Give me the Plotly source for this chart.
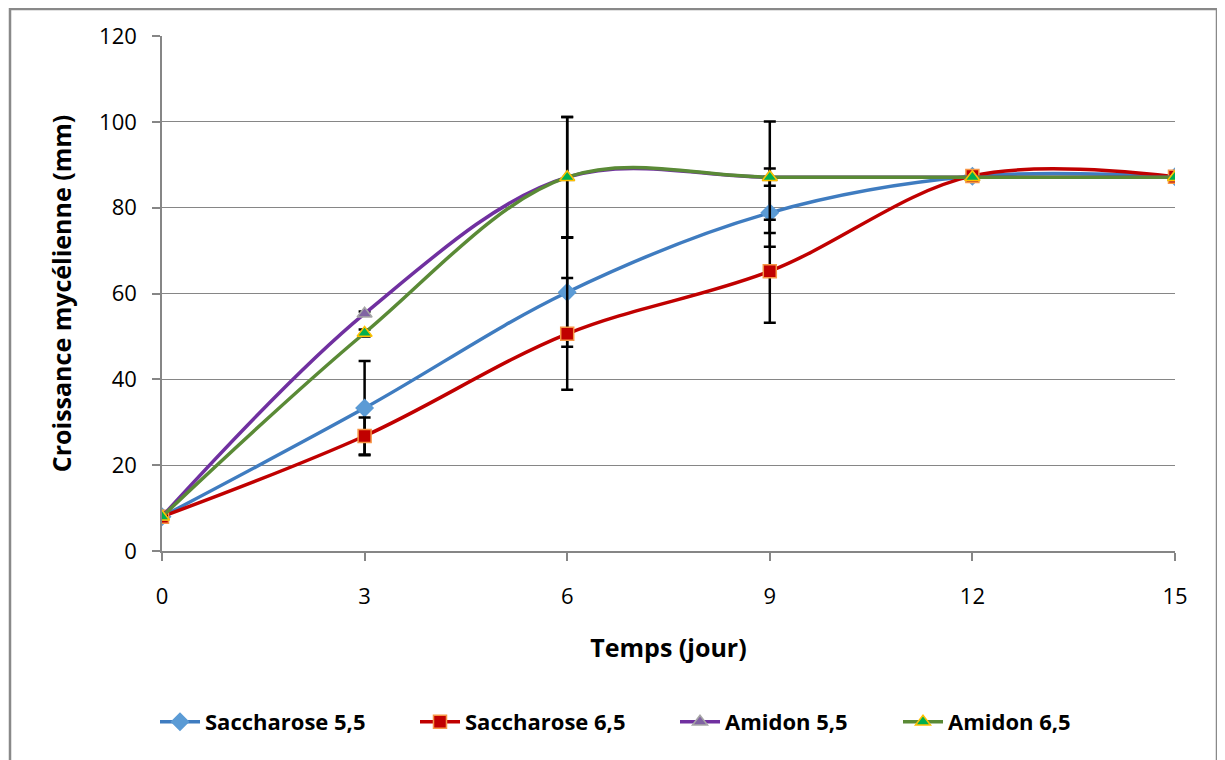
import plotly.graph_objects as go

days = [0, 3, 6, 9, 12, 15]
tick_vals_x = [0, 3, 6, 9, 12, 15]
tick_vals_y = [0, 20, 40, 60, 80, 100, 120]

sacch55 = [8.0, 33.3, 60.3, 78.8, 87.3, 87.2]
sacch65 = [8.0, 26.8, 50.6, 65.2, 87.4, 87.2]
amid55 = [8.0, 55.3, 87.1, 87.1, 87.1, 87.1]
amid65 = [8.0, 50.8, 87.1, 87.1, 87.1, 87.1]

err_sacch55 = [0, 11.0, 12.7, 7.9, 0, 0]
err_sacch65 = [0, 4.3, 13.0, 12.0, 0, 0]
err_amid55 = [0, 0.5, 14.0, 13.0, 0, 0]
err_amid65 = [0, 0.8, 14.0, 2.0, 0, 0]

names = ["Saccharose 5,5", "Saccharose 6,5", "Amidon 5,5", "Amidon 6,5"]
series = [sacch55, sacch65, amid55, amid65]
errors = [err_sacch55, err_sacch65, err_amid55, err_amid65]

line_colors = ["#3F7CC0", "#C00000", "#7030A0", "#5A8A36"]
marker_syms = ["diamond", "square", "triangle-up", "triangle-up"]
marker_fill = ["#5B9BD5", "#C00000", "#8064A2", "#00B050"]
marker_line = ["#5B9BD5", "#F79646", "#A6A6A6", "#FFC000"]
marker_size = [13, 13, 13, 13]

FONT = "Open Sans"

# the page body has an 8px margin: figure origin is at page (8, 8)
OFF = 8
PL, PR, PT, PB = 162, 1175, 36, 551  # plot area in page pixels
W, H = 1225 - OFF, 760 - OFF
legend_text_left = [207, 467, 727, 950]  # page x where each legend label starts
legend_ids = ["legend", "legend2", "legend3", "legend4"]

fig = go.Figure()
for i in range(4):
    fig.add_trace(go.Scatter(
        x=days, y=series[i], name=names[i], mode="lines+markers",
        legend=legend_ids[i],
        line=dict(color=line_colors[i], width=3.5, shape="spline", smoothing=1.0),
        marker=dict(symbol=marker_syms[i], size=marker_size[i], color=marker_fill[i],
                    line=dict(color=marker_line[i], width=1.5)),
        error_y=dict(type="data", array=errors[i], visible=True, color="black",
                     thickness=2.5, width=6),
    ))

legends = {}
for i, lid in enumerate(legend_ids):
    legends[lid] = dict(orientation="h", xref="paper", yref="paper",
                        x=(legend_text_left[i] - 52 - PL) / (PR - PL), xanchor="left",
                        y=(PB - 722) / (PB - PT), yanchor="middle",
                        font=dict(family=FONT, size=22, color="black", weight="bold"),
                        itemwidth=40, bgcolor="rgba(0,0,0,0)")

fig.update_layout(
    width=W, height=H,
    margin=dict(l=PL - OFF, r=1225 - PR, t=PT - OFF, b=760 - PB),
    paper_bgcolor="white", plot_bgcolor="white",
    font=dict(family=FONT, color="black", size=22),
    showlegend=True,
    **legends,
    xaxis=dict(range=[0, 15], tickvals=tick_vals_x, showgrid=False, zeroline=False,
               showline=True, linecolor="#868686", linewidth=1.5,
               ticks="outside", ticklen=8, tickcolor="#868686", tickwidth=1.5,
               ticklabelstandoff=17, tickfont=dict(size=22, family=FONT),
               title=dict(text="Temps (jour)", font=dict(size=25, family=FONT, weight="bold"),
                          standoff=30)),
    yaxis=dict(range=[0, 120], tickvals=tick_vals_y, showgrid=True, gridcolor="#868686",
               gridwidth=1.2, zeroline=False,
               showline=True, linecolor="#868686", linewidth=1.5,
               ticks="outside", ticklen=8, tickcolor="#868686", tickwidth=1.5,
               ticklabelstandoff=11, tickfont=dict(size=22, family=FONT),
               title=dict(text="Croissance mycélienne (mm)",
                          font=dict(size=25, family=FONT, weight="bold"), standoff=20)),
)

fig.add_shape(type="rect", xref="paper", yref="paper",
              x0=(10 - PL) / (PR - PL), x1=(1217 - PL) / (PR - PL),
              y0=(PB - 800) / (PB - PT), y1=(PB - 9) / (PB - PT),
              line=dict(color="#898989", width=2.5), fillcolor="rgba(0,0,0,0)", layer="below")

fig.write_html("out.html")
